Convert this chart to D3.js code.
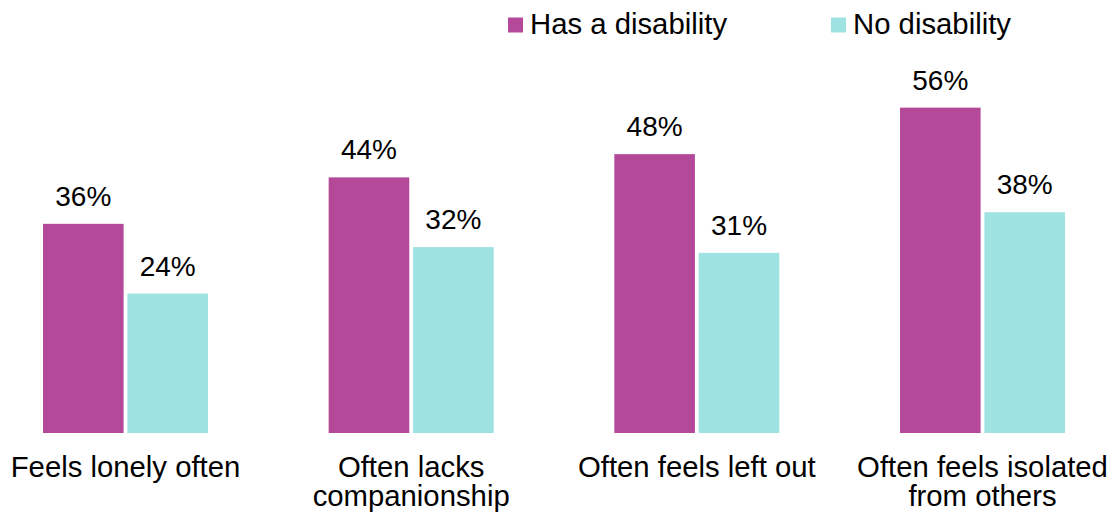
<!DOCTYPE html>
<html>
<head>
<meta charset="utf-8">
<script src="https://cdn.jsdelivr.net/npm/d3@7"></script>
<style>
  html, body { margin: 0; padding: 0; background: #ffffff; }
  svg { display: block; font-family: "Liberation Sans", Arial, sans-serif; }
</style>
</head>
<body>
<svg id="chart" width="1115" height="516"></svg>
<script>
// Loneliness measures by disability status (percent)
const categories = [
  ["Feels lonely often"],
  ["Often lacks", "companionship"],
  ["Often feels left out"],
  ["Often feels isolated", "from others"]
];
const seriesNames = ["Has a disability", "No disability"];
const hasDisability = [36, 44, 48, 56];
const noDisability = [24, 32, 31, 38];
const seriesColors = ["#b4499a", "#9ee2e1"];

const svg = d3.select("#chart");
const baseline = 433;
const valueFontSize = 28;
const textFontSize = 29.3;

const x0 = d3.scaleBand()
  .domain(d3.range(categories.length))
  .range([43, 1065])
  .paddingInner(0.4224)
  .paddingOuter(0);

const x1 = d3.scaleBand()
  .domain(d3.range(seriesNames.length))
  .range([0, x0.bandwidth()])
  .paddingInner(0.045)
  .paddingOuter(0);

const y = d3.scaleLinear()
  .domain([0, 100])
  .range([baseline, baseline - 581]);

const seriesValues = [hasDisability, noDisability];

const groups = svg.selectAll("g.group")
  .data(categories)
  .join("g")
  .attr("class", "group")
  .attr("transform", (d, i) => `translate(${x0(i)},0)`);

groups.each(function(cat, ci) {
  const g = d3.select(this);
  const rows = seriesValues.map((vals, si) => ({ si, v: vals[ci] }));

  g.selectAll("rect")
    .data(rows)
    .join("rect")
    .attr("x", d => x1(d.si))
    .attr("y", d => y(d.v))
    .attr("width", x1.bandwidth())
    .attr("height", d => baseline - y(d.v))
    .attr("fill", d => seriesColors[d.si]);

  g.selectAll("text.value")
    .data(rows)
    .join("text")
    .attr("class", "value")
    .attr("x", d => x1(d.si) + x1.bandwidth() / 2)
    .attr("y", d => y(d.v) - 18)
    .attr("text-anchor", "middle")
    .attr("font-size", valueFontSize)
    .attr("fill", "#000")
    .text(d => d.v + "%");

  const label = g.append("text")
    .attr("class", "category")
    .attr("x", x0.bandwidth() / 2)
    .attr("y", 477)
    .attr("text-anchor", "middle")
    .attr("font-size", textFontSize)
    .attr("fill", "#000");
  label.selectAll("tspan")
    .data(cat)
    .join("tspan")
    .attr("x", x0.bandwidth() / 2)
    .attr("dy", (d, i) => i === 0 ? 0 : 29)
    .text(d => d);
});

// Legend
const legendX = [508, 831];
const legend = svg.selectAll("g.legend")
  .data(seriesNames)
  .join("g")
  .attr("class", "legend")
  .attr("transform", (d, i) => `translate(${legendX[i]},17.5)`);
legend.append("rect")
  .attr("width", 15)
  .attr("height", 15)
  .attr("fill", (d, i) => seriesColors[i]);
legend.append("text")
  .attr("x", 22)
  .attr("y", 16.8)
  .attr("font-size", textFontSize)
  .attr("fill", "#000")
  .text(d => d);
</script>
</body>
</html>
